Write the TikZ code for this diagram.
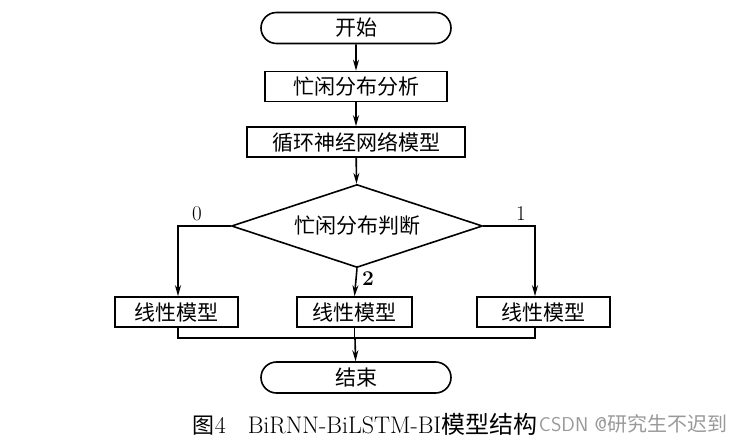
\documentclass[tikz,border=0pt]{standalone}
\usepackage{fontspec}
\newfontfamily\cjk{Noto Sans CJK SC}
\usetikzlibrary{shapes.geometric,shapes.misc,arrows.meta}

\begin{document}
\begin{tikzpicture}[x=1pt,y=-1pt,
  term/.style={draw,rounded rectangle,minimum width=190pt,minimum height=31pt,inner sep=0pt,font=\cjk\fontsize{21}{24}\selectfont},
  procbox/.style={draw,rectangle,minimum height=30pt,inner sep=0pt,font=\cjk\fontsize{21}{24}\selectfont},
  decide/.style={draw,diamond,aspect=3,minimum width=251pt,minimum height=83pt,inner sep=0pt,font=\cjk\fontsize{21}{24}\selectfont},
  lbl/.style={font=\fontsize{21}{24}\selectfont},
  flow/.style={-{Stealth[length=11pt,width=6pt]}},
  line width=1.6pt]
\useasboundingbox (0,0) rectangle (731,446);
% flow chart
\node[term] (start) at (356,28) {开始};
\node[procbox,minimum width=182pt] (ana) at (356,86.5) {忙闲分布分析};
\node[procbox,minimum width=218pt] (rnn) at (356,142) {循环神经网络模型};
\node[decide] (dec) at (357,226) {忙闲分布判断};
\node[procbox,minimum width=123pt] (lin0) at (176.5,312) {线性模型};
\node[procbox,minimum width=115pt] (lin2) at (354.5,312) {线性模型};
\node[procbox,minimum width=133pt] (lin1) at (543.5,312) {线性模型};
\node[term] (stop) at (356,377.5) {结束};
\coordinate (join) at (355,338);

\draw[flow] (start) -- (ana);
\draw[flow] (ana) -- (rnn);
\draw[flow] (rnn) -- (dec);
\draw[flow] (dec.west) -| ([xshift=1.5pt]lin0.north);
\draw[flow] (dec.east) -| ([xshift=-8.5pt]lin1.north);
\draw[flow] (dec.south) -- (lin2.north);
\draw ([xshift=1.5pt]lin0.south) |- (join);
\draw ([xshift=-8.5pt]lin1.south) |- (join);
\draw (join -| lin2.south) -- (lin2.south);
\draw[flow] (join) -- (stop);

\node[lbl] (l0) at (197,214) {0};
\node[lbl] (l1) at (521,214) {1};
\node[lbl,font=\bfseries\fontsize{21}{24}\selectfont] (l2) at (368,279) {2};

% caption
\node[anchor=west,inner sep=0pt,font=\fontsize{24}{27}\selectfont] (cap) at (192,424)
  {{\cjk\fontsize{22}{26}\selectfont 图}4\hspace{22pt}BiRNN-BiLSTM-BI{\cjk\fontsize{24}{27}\selectfont 模型结构}};
\node[anchor=west,inner sep=0pt,text=black!40,font=\sffamily\fontsize{20}{23}\selectfont] (mark) at (cap.east)
  {CSDN @{\cjk 研究生不迟到}};
\end{tikzpicture}
\end{document}
